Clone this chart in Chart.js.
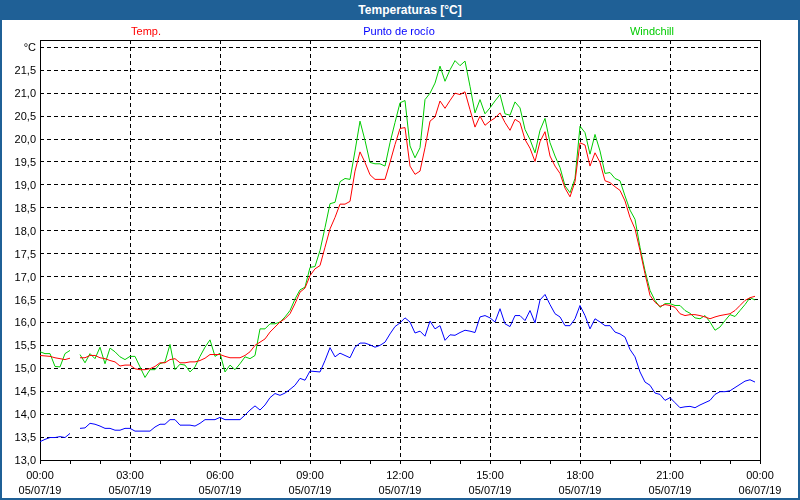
<!DOCTYPE html>
<html lang="es">
<head>
  <meta charset="UTF-8">
  <title>Temperaturas [°C]</title>
  <script src="https://cdn.jsdelivr.net/npm/chart.js@4"></script>
  <style>
    body { margin: 0; background: #fff; }
    .frame { position: relative; width: 800px; height: 500px; overflow: hidden; font-family: "Liberation Sans", Arial, sans-serif; }
    .frame canvas { position: absolute; left: 0; top: 0; }
    .title-bar { position: absolute; left: 0; top: 0; width: 800px; height: 20px; box-sizing: border-box; padding-left: 20px;
                 background: #1f6096; color: #fff; font-weight: bold; font-size: 12px; line-height: 20px; text-align: center; }
    .legend span { position: absolute; top: 24px; font-size: 11px; line-height: 14px; transform: translateX(-50%); white-space: nowrap; }
    .edge { position: absolute; left: 0; top: 0; width: 800px; height: 500px; box-sizing: border-box; border: 2px solid #1f6096; border-top: 0; pointer-events: none; }
  </style>
</head>
<body>
  <div class="frame">
    <canvas id="tempChart" width="800" height="500"></canvas>
    <div class="title-bar">Temperaturas [°C]</div>
    <div class="legend" id="legend"></div>
    <div class="edge"></div>
  </div>

  <script>
    // lecturas cada 10 minutos, 05/07/19 00:00 -> 23:50 (null = sin dato)
    const stepMinutes = 10;

    const temp = [
      15.28, 15.27, 15.26, 15.23, 15.21, 15.19, 15.22, null,
      15.23, 15.23, 15.28, 15.28, 15.23, 15.21, 15.17, 15.14, 15.05, 15.07,
      15.07, 14.99, 14.97, 14.97, 14.99, 15.04, 15.12, 15.12, 15.19, 15.21,
      15.12, 15.12, 15.14, 15.14, 15.17, 15.22, 15.30, 15.30, 15.30, 15.26,
      15.23, 15.23, 15.23, 15.28, 15.36, 15.50, 15.57, 15.64, 15.79, 15.90,
      16.01, 16.08, 16.19, 16.41, 16.66, 16.75, 17.02, 17.17, 17.24, 17.64,
      18.04, 18.29, 18.58, 18.58, 18.64, 19.30, 19.72, 19.49, 19.22, 19.12,
      19.12, 19.12, 19.49, 19.88, 20.23, 20.25, 19.41, 19.23, 19.30, 19.81,
      20.39, 20.48, 20.83, 20.67, 20.84, 21.00, 20.97, 21.03, 20.64, 20.26,
      20.50, 20.30, 20.39, 20.46, 20.57, 20.36, 20.19, 20.43, 20.36, 19.99,
      19.80, 19.51, 19.94, 20.16, 19.63, 19.41, 19.25, 18.93, 18.74, 19.07,
      19.92, 19.87, 19.41, 19.70, 19.49, 19.09, 19.05, 18.96, 18.88, 18.65,
      18.29, 18.04, 17.57, 17.06, 16.59, 16.44, 16.35, 16.39, 16.37, 16.33,
      16.19, 16.15, 16.17, 16.17, 16.15, 16.12, 16.08, 16.12, 16.15, 16.17,
      16.19, 16.26, 16.37, 16.48, 16.54, 16.57
    ];

    const dewPoint = [
      13.40, 13.45, 13.49, 13.49, 13.51, 13.49, 13.58, null,
      13.69, 13.70, 13.80, 13.78, 13.74, 13.69, 13.69, 13.65, 13.65, 13.69,
      13.69, 13.63, 13.63, 13.63, 13.63, 13.72, 13.78, 13.78, 13.88, 13.88,
      13.76, 13.76, 13.76, 13.74, 13.80, 13.88, 13.88, 13.88, 13.93, 13.88,
      13.88, 13.88, 13.88, 13.98, 14.09, 14.18, 14.09, 14.20, 14.36, 14.45,
      14.41, 14.46, 14.54, 14.63, 14.78, 14.74, 14.94, 14.93, 14.92, 15.17,
      15.45, 15.25, 15.33, 15.28, 15.23, 15.46, 15.55, 15.55, 15.51, 15.46,
      15.50, 15.57, 15.75, 15.91, 15.99, 16.10, 16.01, 15.77, 15.81, 15.70,
      16.03, 15.86, 15.93, 15.61, 15.73, 15.72, 15.78, 15.83, 15.81, 15.78,
      16.12, 16.15, 16.10, 16.01, 16.30, 15.97, 15.91, 16.15, 16.15, 16.04,
      16.26, 15.99, 16.49, 16.61, 16.39, 16.19, 16.12, 15.93, 15.93, 16.08,
      16.37, 16.15, 15.86, 16.08, 16.01, 15.93, 15.93, 15.79, 15.75, 15.68,
      15.41, 15.25, 14.92, 14.70, 14.63, 14.46, 14.43, 14.30, 14.36, 14.25,
      14.14, 14.16, 14.17, 14.14, 14.20, 14.25, 14.30, 14.43, 14.49, 14.49,
      14.51, 14.58, 14.65, 14.72, 14.75, 14.70
    ];

    const windchill = [
      15.36, 15.32, 15.32, 15.04, 15.03, 15.32, 15.39, null,
      15.30, 15.12, 15.32, 15.21, 15.46, 15.10, 15.44, 15.36, 15.25, 15.19,
      15.26, 15.26, 15.03, 14.80, 14.97, 14.97, 15.10, 15.14, 15.52, 14.97,
      15.09, 15.07, 14.92, 15.03, 15.26, 15.46, 15.62, 15.26, 15.33, 14.92,
      15.07, 14.97, 15.10, 15.25, 15.21, 15.28, 15.86, 15.86, 15.97, 15.97,
      16.01, 16.12, 16.26, 16.51, 16.71, 16.77, 17.20, 17.22, 17.57, 18.07,
      18.59, 18.62, 19.07, 19.14, 19.12, 19.74, 20.39, 19.97, 19.49, 19.46,
      19.46, 19.41, 19.92, 20.36, 20.79, 20.84, 19.85, 19.59, 19.81, 20.86,
      21.00, 21.22, 21.59, 21.26, 21.51, 21.71, 21.60, 21.70, 21.15, 20.57,
      20.86, 20.55, 20.68, 20.83, 20.97, 20.55, 20.52, 20.81, 20.68, 20.21,
      19.99, 19.70, 20.19, 20.45, 19.92, 19.63, 19.38, 18.98, 18.83, 19.14,
      20.28, 20.14, 19.67, 20.10, 19.74, 19.25, 19.27, 19.14, 19.09, 18.76,
      18.45, 18.25, 17.64, 17.13, 16.70, 16.48, 16.33, 16.41, 16.41, 16.37,
      16.37, 16.26, 16.20, 16.10, 16.08, 16.15, 16.01, 15.83, 15.90, 16.04,
      16.17, 16.13, 16.26, 16.39, 16.54, 16.49
    ];

    const seriesLabels = ['Temp.', 'Punto de rocío', 'Windchill'];
    const seriesColors = ['#ff0000', '#0000ff', '#00cc00'];

    // etiquetas del eje X cada 3 horas
    const hourTicks = ['00:00', '03:00', '06:00', '09:00', '12:00', '15:00', '18:00', '21:00', '00:00'];
    const dateTicks = ['05/07/19', '05/07/19', '05/07/19', '05/07/19', '05/07/19', '05/07/19', '05/07/19', '05/07/19', '06/07/19'];
    const yUnitLabel = '°C';

    // posiciones de la leyenda (centro de cada texto)
    const legendCenters = [146, 399, 652];

    const fontFamily = '"Liberation Sans", Arial, sans-serif';

    function toPoints(values) {
      return values.map((v, i) => ({ x: i * stepMinutes, y: v }));
    }

    // leyenda en HTML, con los colores de cada serie
    const legend = document.getElementById('legend');
    seriesLabels.forEach((label, i) => {
      const s = document.createElement('span');
      s.textContent = label;
      s.style.color = seriesColors[i];
      s.style.left = legendCenters[i] + 'px';
      legend.appendChild(s);
    });

    // marco negro alrededor del área del gráfico
    const plotBox = {
      id: 'plotBox',
      beforeDatasetsDraw(chart) {
        const { ctx, chartArea: a } = chart;
        ctx.save();
        ctx.strokeStyle = '#000';
        ctx.lineWidth = 1;
        ctx.strokeRect(a.left + 0.5, a.top + 0.5, a.right - a.left, a.bottom - a.top);
        ctx.restore();
      }
    };

    const ctx = document.getElementById('tempChart').getContext('2d');
    new Chart(ctx, {
      type: 'line',
      data: {
        datasets: [
          { label: seriesLabels[0], data: toPoints(temp), borderColor: seriesColors[0] },
          { label: seriesLabels[1], data: toPoints(dewPoint), borderColor: seriesColors[1] },
          { label: seriesLabels[2], data: toPoints(windchill), borderColor: seriesColors[2] }
        ]
      },
      options: {
        responsive: false,
        animation: false,
        spanGaps: false,
        elements: {
          line: { borderWidth: 1, tension: 0, fill: false },
          point: { radius: 0 }
        },
        layout: { padding: { top: 40, right: 40, left: 0, bottom: 0 } },
        plugins: {
          legend: { display: false },
          title: { display: false },
          tooltip: { enabled: false }
        },
        scales: {
          x: {
            type: 'linear',
            min: 0,
            max: 1440,
            afterFit(scale) { scale.height = 40; },
            border: { display: false, dash: [4, 3] },
            grid: {
              color: c => (c.tick && c.tick.value % 180 === 0) ? '#000' : 'transparent',
              tickColor: '#000',
              tickLength: 4,
              tickBorderDash: []
            },
            ticks: {
              stepSize: 60,
              autoSkip: false,
              maxRotation: 0,
              padding: 4,
              color: '#000',
              font: { family: fontFamily, size: 11, lineHeight: 1.4 },
              callback: v => v % 180 === 0 ? [hourTicks[v / 180], dateTicks[v / 180]] : ''
            }
          },
          y: {
            min: 13,
            max: 22.16,
            afterFit(scale) { scale.width = 40; },
            border: { display: false, dash: [4, 3] },
            grid: { color: '#000', drawTicks: false },
            ticks: {
              stepSize: 0.5,
              includeBounds: false,
              padding: 4,
              labelOffset: 1,
              color: '#000',
              font: { family: fontFamily, size: 11 },
              callback: v => v === 22 ? yUnitLabel : v.toFixed(1).replace('.', ',')
            }
          }
        }
      },
      plugins: [plotBox]
    });
  </script>
</body>
</html>
